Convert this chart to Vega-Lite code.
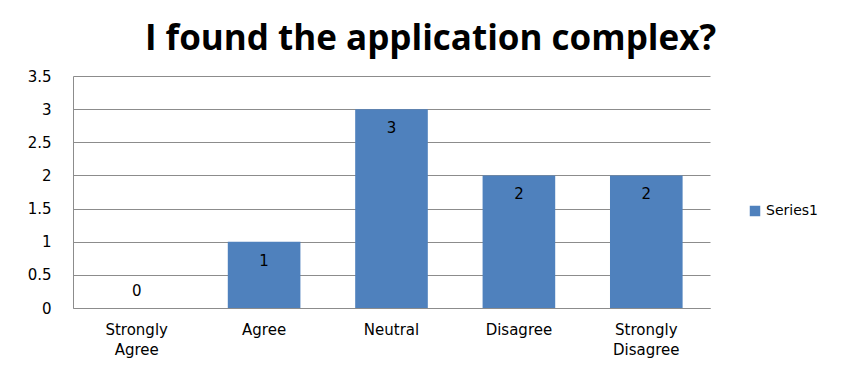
{
  "$schema": "https://vega.github.io/schema/vega-lite/v6.json",
  "width": 637,
  "height": 232,
  "autosize": {"type": "none"},
  "padding": {"left": 73, "top": 76, "right": 146, "bottom": 59},
  "background": "white",
  "title": {
    "text": "I found the application complex?",
    "font": "Open Sans",
    "fontWeight": "bold",
    "fontSize": 35,
    "color": "#000000",
    "anchor": "middle",
    "dx": 39,
    "offset": 12
  },
  "config": {
    "view": {"stroke": null},
    "font": "DejaVu Sans"
  },
  "data": {
    "values": [
      {"response": "Strongly Agree", "count": 0, "series": "Series1"},
      {"response": "Agree", "count": 1, "series": "Series1"},
      {"response": "Neutral", "count": 3, "series": "Series1"},
      {"response": "Disagree", "count": 2, "series": "Series1"},
      {"response": "Strongly Disagree", "count": 2, "series": "Series1"}
    ]
  },
  "encoding": {
    "x": {
      "field": "response",
      "type": "nominal",
      "sort": null,
      "scale": {"paddingInner": 0.43, "paddingOuter": 0.215},
      "axis": {
        "title": null,
        "labelAngle": 0,
        "labelExpr": "split(datum.label, ' ')",
        "labelFont": "DejaVu Sans",
        "labelFontSize": 15,
        "labelColor": "#000000",
        "labelLineHeight": 20,
        "labelPadding": 14,
        "ticks": false,
        "domainColor": "#8c8c8c",
        "grid": false
      }
    },
    "y": {
      "field": "count",
      "type": "quantitative",
      "scale": {"domain": [0, 3.5]},
      "axis": {
        "title": null,
        "values": [0, 0.5, 1, 1.5, 2, 2.5, 3, 3.5],
        "format": "~g",
        "labelFont": "DejaVu Sans",
        "labelFontSize": 15,
        "labelColor": "#000000",
        "labelPadding": 22,
        "ticks": false,
        "domainColor": "#8c8c8c",
        "gridColor": "#8c8c8c",
        "grid": true
      }
    }
  },
  "layer": [
    {
      "mark": {"type": "bar", "color": "#4F81BD"},
      "encoding": {
        "color": {
          "field": "series",
          "type": "nominal",
          "scale": {"range": ["#4F81BD"]},
          "legend": {
            "title": null,
            "orient": "none",
            "legendX": 675,
            "legendY": 128,
            "symbolType": "square",
            "symbolSize": 110,
            "symbolStrokeWidth": 0,
            "labelFont": "DejaVu Sans",
            "labelFontSize": 14,
            "labelColor": "#000000",
            "labelOffset": 4,
            "padding": 0
          }
        }
      }
    },
    {
      "transform": [{"filter": "datum.count > 0"}],
      "mark": {"type": "text", "baseline": "middle", "dy": 19, "fontSize": 15, "color": "#000000", "font": "DejaVu Sans"},
      "encoding": {"text": {"field": "count", "type": "quantitative"}}
    },
    {
      "transform": [{"filter": "datum.count == 0"}],
      "mark": {"type": "text", "baseline": "middle", "dy": -17, "fontSize": 15, "color": "#000000", "font": "DejaVu Sans"},
      "encoding": {"text": {"field": "count", "type": "quantitative"}}
    }
  ]
}
